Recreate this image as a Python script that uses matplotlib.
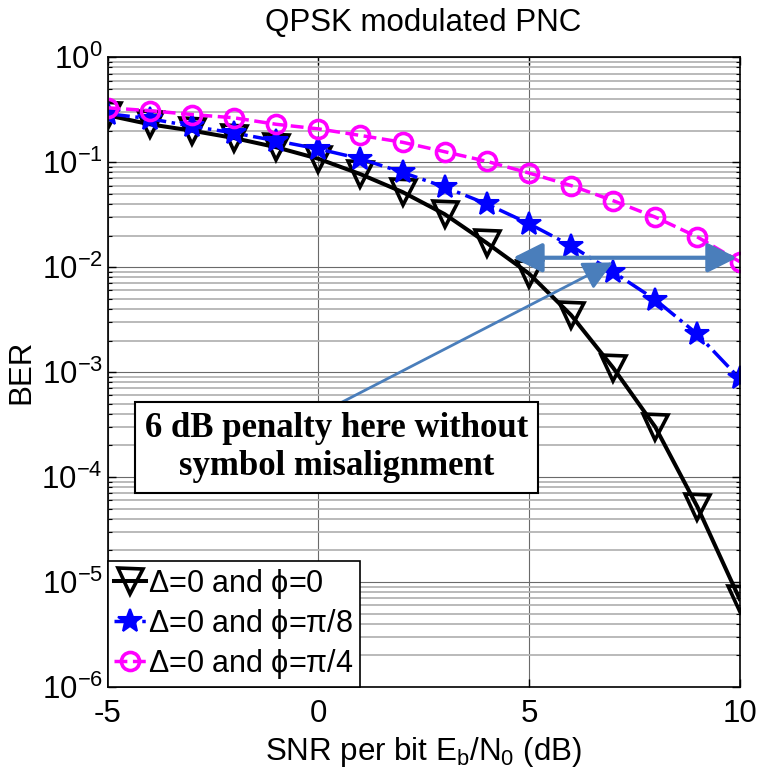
import matplotlib
matplotlib.use("Agg")
import matplotlib.pyplot as plt
import numpy as np
from matplotlib.ticker import LogLocator, NullFormatter, FixedLocator

plt.rcParams['font.family'] = ['Liberation Sans', 'DejaVu Sans']
plt.rcParams['mathtext.fontset'] = 'custom'
plt.rcParams['mathtext.rm'] = 'Liberation Sans'
plt.rcParams['mathtext.it'] = 'Liberation Sans'
plt.rcParams['axes.unicode_minus'] = False

# SNR per bit (dB)
snr = np.arange(-5, 11)

# BER values
ber_phi0 = [0.28, 0.23, 0.20, 0.17, 0.139, 0.108, 0.077, 0.052, 0.032, 0.017,
            0.0087, 0.0035, 0.0011, 3.0e-4, 5.2e-5, 6.9e-6]
ber_phi8 = [0.29, 0.26, 0.22, 0.19, 0.16, 0.134, 0.108, 0.080, 0.058, 0.040,
            0.026, 0.016, 0.0090, 0.0049, 0.0023, 8.7e-4]
ber_phi4 = [0.33, 0.31, 0.285, 0.265, 0.23, 0.208, 0.18, 0.155, 0.126, 0.102,
            0.079, 0.060, 0.043, 0.030, 0.0194, 0.0113]

labels = [r'$\Delta$=0 and $\phi$=0', r'$\Delta$=0 and $\phi$=$\pi$/8',
          r'$\Delta$=0 and $\phi$=$\pi$/4']

# annotation anchors (SNR, BER)
penalty_left = (4.62, 0.0123)
penalty_right = (9.94, 0.0123)
pointer_from = (0.49, 5.0e-4)
pointer_to = (6.99, 0.0111)
note = '6 dB penalty here without\nsymbol misalignment'

arrow_color = '#4A7EBB'
fs = 22.5

fig = plt.figure(figsize=(7.61, 7.68), dpi=100)
ax = fig.add_axes([0.1415, 0.1055, 0.8303, 0.8199])

ax.semilogy(snr, ber_phi0, color='black', ls='-', lw=2.9, marker='v', ms=18,
            mfc='none', mec='black', mew=2.6, label=labels[0])
ax.semilogy(snr, ber_phi8, color='blue', ls='-.', lw=2.5, marker='*', ms=18,
            mfc='blue', mec='blue', mew=1.5, label=labels[1])
ax.semilogy(snr, ber_phi4, color='magenta', ls='--', lw=2.5, marker='o', ms=13,
            mfc='none', mec='magenta', mew=2.6, label=labels[2])

ax.set_xlim(-5, 10)
ax.set_ylim(1e-6, 1)
ax.xaxis.set_major_locator(FixedLocator([-5, 0, 5, 10]))
ax.yaxis.set_major_locator(LogLocator(base=10, numticks=10))
ax.yaxis.set_minor_locator(LogLocator(base=10, subs=np.arange(2, 10), numticks=20))
ax.yaxis.set_minor_formatter(NullFormatter())

ax.grid(True, which='major', color='#6a6a6a', lw=0.8)
ax.grid(True, which='minor', axis='y', color='#b4b4b4', lw=1.3)
ax.tick_params(which='both', direction='in', top=True, right=True, labelsize=fs)
ax.tick_params(which='major', length=6, width=1)
ax.tick_params(axis='x', pad=9)
ax.tick_params(which='minor', length=3, width=0.8)
for s in ax.spines.values():
    s.set_linewidth(1.2)

ax.set_title('QPSK modulated PNC', fontsize=fs, pad=19)
ax.set_xlabel(r'SNR per bit E$_\mathrm{b}$/N$_0$ (dB)', fontsize=fs, labelpad=4)
ax.set_ylabel('BER', fontsize=fs, labelpad=4)

# penalty arrows
ax.annotate('', xy=penalty_right, xytext=penalty_left,
            arrowprops=dict(arrowstyle='<|-|>,head_length=0.9,head_width=0.45',
                            color=arrow_color, lw=3, mutation_scale=20,
                            shrinkA=0, shrinkB=0))
ax.annotate('', xy=pointer_to, xytext=pointer_from,
            arrowprops=dict(arrowstyle='-|>,head_length=0.9,head_width=0.45',
                            color=arrow_color, lw=2, mutation_scale=20,
                            shrinkA=0, shrinkB=0))

ax.text(0.362, 0.380, note, transform=ax.transAxes, ha='center', va='center',
        family='Liberation Serif', fontweight='bold', fontsize=25,
        linespacing=1.2,
        bbox=dict(boxstyle='square,pad=0.28', fc='white', ec='black', lw=1.5))

leg = ax.legend(loc='lower left', fontsize=22, borderaxespad=0, handlelength=1.05,
                handletextpad=0.08, labelspacing=0.2, borderpad=0.2,
                fancybox=False, framealpha=1, edgecolor='black')
leg.get_frame().set_linewidth(1.2)

fig.savefig('out.png', dpi=100)
